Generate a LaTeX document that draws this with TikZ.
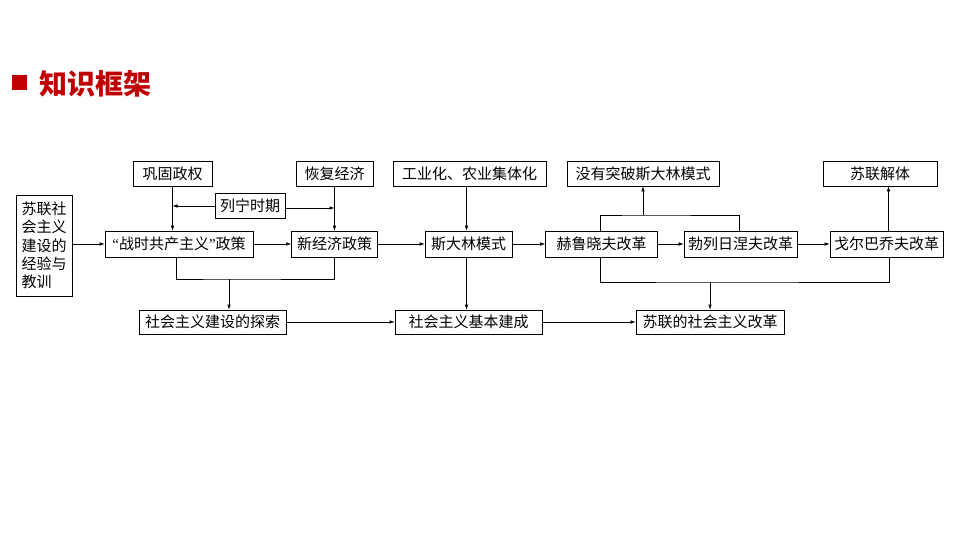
\documentclass[tikz,border=0pt]{standalone}
\usepackage{fontspec}
\setmainfont{Noto Sans CJK SC}
\newfontfamily\quotefont{Liberation Serif}
\usetikzlibrary{arrows.meta}
\definecolor{titlered}{HTML}{C00000}

\tikzset{
    box/.style={draw, line width=0.6pt, inner sep=2pt, minimum height=25pt, font=\fontsize{15}{18}\selectfont},
    link/.style={line width=0.6pt},
    >={Latex[length=5pt,width=3.5pt]}
}

\begin{document}
\begin{tikzpicture}[x=1pt,y=-1pt]
            \useasboundingbox (0,0) rectangle (960,540);

            \node[fill=titlered, minimum size=15pt, inner sep=0pt] (mark) at (19.5,82.5) {};
            \node[anchor=west, text=titlered, font=\fontsize{28}{30}\selectfont\bfseries] (title) at (36,83.5) {知识框架};

            \foreach \n/\x/\w/\t in {gonggu/172.5/79/巩固政权, huifu/334.5/77/恢复经济, gongye/469.5/153/工业化、农业集体化, meiyou/643/152/没有突破斯大林模式, jieti/880/114/苏联解体} {
                \node[box, minimum width=\w pt] (\n) at (\x,173.5) {\t};
            }
            \foreach \n/\x/\w/\t in {zhanshi/179/148/{{\quotefont “}战时共产主义{\quotefont ”}政策}, xinjingji/334.5/86/新经济政策, sidalin/468.5/87/斯大林模式, helu/601.5/112/赫鲁晓夫改革, bolie/740.5/113/勃列日涅夫改革, geerba/886.5/113/戈尔巴乔夫改革} {
                \node[box, minimum width=\w pt, minimum height=26pt] (\n) at (\x,244) {\t};
            }
            \foreach \n/\x/\w/\t in {tansuo/212.5/147/社会主义建设的探索, jiben/468.5/147/社会主义基本建成, gaige/710/148/苏联的社会主义改革} {
                \node[box, minimum width=\w pt, minimum height=24pt] (\n) at (\x,322) {\t};
            }

            \node[box, minimum width=70pt] (lenin) at (250,206) {列宁时期};
            \node[box, minimum width=56pt, minimum height=101pt, align=left, font=\fontsize{15}{18.3}\selectfont] (jiaoxun) at (44,245.5) {苏联社\\会主义\\建设的\\经验与\\教训};

            \foreach \a/\b in {zhanshi/xinjingji, xinjingji/sidalin, sidalin/helu, helu/bolie, bolie/geerba, tansuo/jiben, jiben/gaige} {
                \draw[link,->] (\a) -- (\b);
            }
            \draw[link,->] (jiaoxun.east |- zhanshi) -- (zhanshi.west);

            \draw[link,->] (gonggu.south) -- (gonggu.south |- zhanshi.north);
            \draw[link,->] (huifu.south) -- (huifu.south |- xinjingji.north);
            \draw[link,->] ([xshift=-3pt]gongye.south) -- ([xshift=-3pt]gongye.south |- sidalin.north);
            \draw[link,->] ([xshift=-2pt]sidalin.south) -- ([xshift=-2pt]sidalin.south |- jiben.north);
            \draw[link,->] ([xshift=2pt]geerba.north) -- ([xshift=2pt]geerba.north |- jieti.south);

            \draw[link,->] (lenin.west) -- (lenin.west -| gonggu.south);
            \draw[link,->] ([yshift=-2pt]lenin.east) -- ([yshift=-2pt]lenin.east -| huifu.south);

            \coordinate (j1) at (229,279);
            \draw[link] ([xshift=-3pt]zhanshi.south) |- (j1) -| (xinjingji.south);
            \draw[link,->] (j1) -- (j1 |- tansuo.north);

            \coordinate (j2) at (643,215);
            \draw[link] ([xshift=-1.5pt]helu.north) |- (j2) -| ([xshift=-1.5pt]bolie.north);
            \draw[link,->] (j2) -- (meiyou.south);

            \coordinate (j3) at (710,282);
            \draw[link] ([xshift=-1.5pt]helu.south) |- (j3) -| ([xshift=3pt]geerba.south);
            \draw[link,->] (j3) -- (gaige.north);
        \end{tikzpicture}
\end{document}
